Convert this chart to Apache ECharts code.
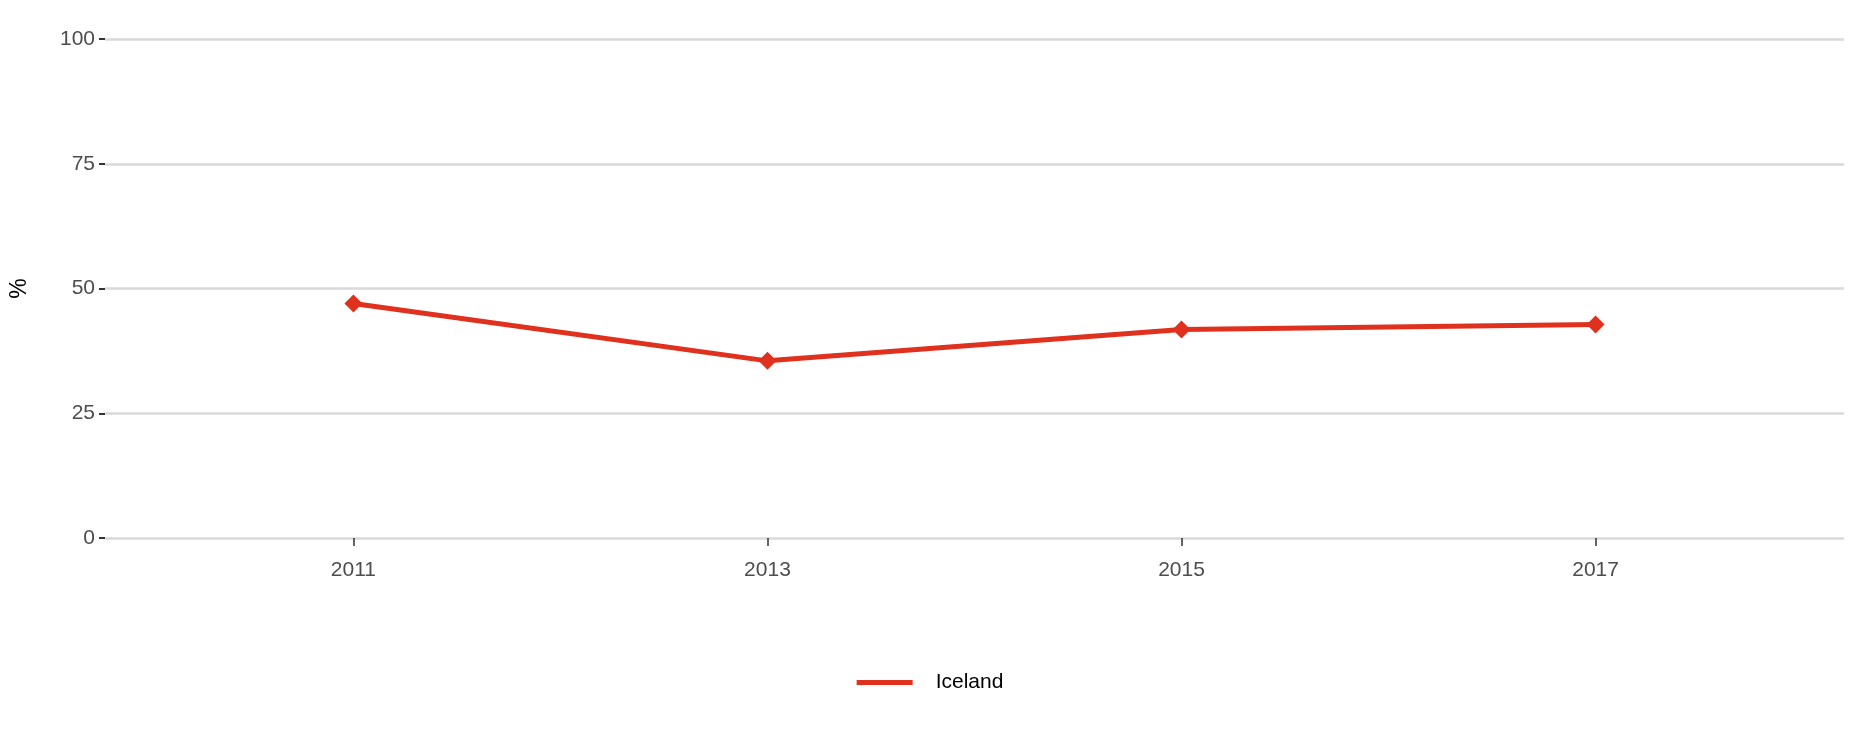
<!DOCTYPE html><html><head><meta charset="utf-8"><script src="https://cdn.jsdelivr.net/npm/echarts@6/dist/echarts.min.js"></script></head><body style="margin:0"><div id="c" style="width:1860px;height:744px"></div><script>
const years=[2011,2013,2015,2017];
const iceland=[47,35.5,41.8,42.8];
const yTicks=[0,25,50,75,100];
const ch=echarts.init(document.getElementById('c'));
ch.setOption({
 animation:false,
 grid:{left:104,right:16,top:39,bottom:206},
 legend:{bottom:46,left:'center',itemWidth:56,itemHeight:5,icon:'rect',textStyle:{fontFamily:'Liberation Sans',fontSize:21,color:'#000',padding:[0,0,0,18]},data:['Iceland']},
 xAxis:{type:'value',min:2009.8,max:2018.2,axisLine:{show:false},splitLine:{show:false},
  axisTick:{show:true,length:8,customValues:years,lineStyle:{color:'#333',width:1.5}},
  axisLabel:{fontFamily:'Liberation Sans',fontSize:21,color:'#4d4d4d',margin:22,customValues:years,formatter:v=>String(v)}},
 yAxis:{type:'value',min:0,max:100,interval:25,name:'%',nameLocation:'middle',nameGap:74,nameTextStyle:{fontFamily:'Liberation Sans',fontSize:23,color:'#000'},
  axisLine:{show:false},axisTick:{show:true,length:6,lineStyle:{color:'#333',width:2}},
  axisLabel:{fontFamily:'Liberation Sans',fontSize:21,color:'#4d4d4d',margin:10},
  splitLine:{lineStyle:{color:'#d9d9d9',width:2.5}}},
 series:[{name:'Iceland',type:'line',data:years.map((y,i)=>[y,iceland[i]]),
  symbol:'diamond',symbolSize:18,lineStyle:{width:5,color:'#e0301e'},itemStyle:{color:'#e0301e'}}]
});
</script></body></html>
